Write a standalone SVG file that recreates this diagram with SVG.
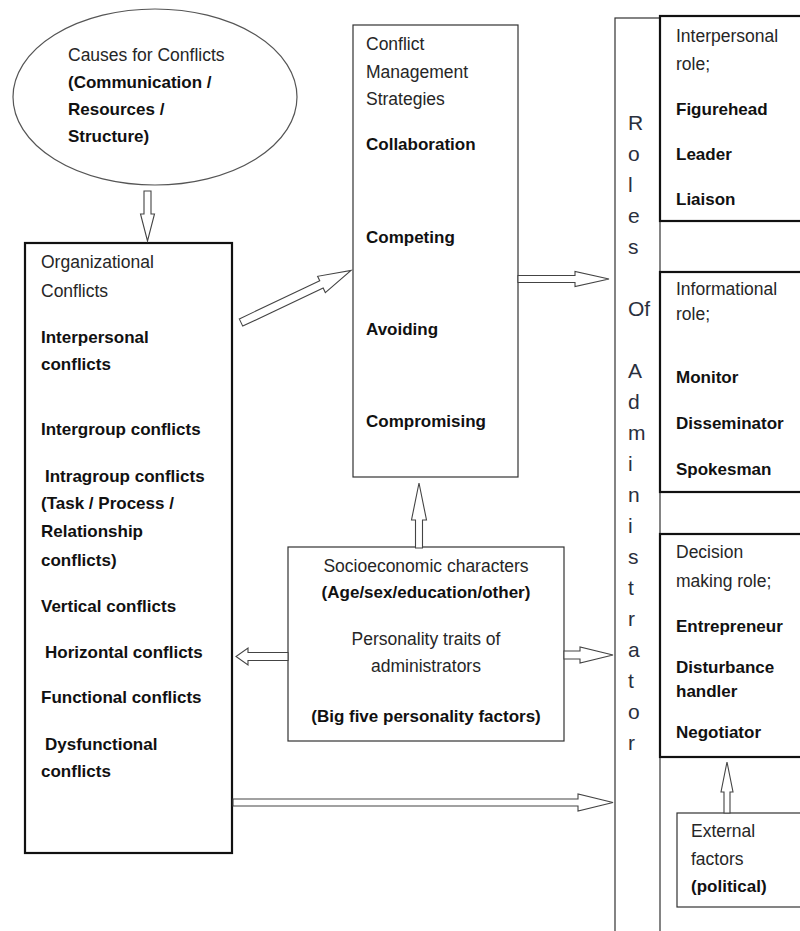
<svg xmlns="http://www.w3.org/2000/svg" width="800" height="931" viewBox="0 0 800 931">
<style>
text{font-family:"Liberation Sans",Arial,sans-serif;fill:#262626}
.r{font-size:17.5px}
.b{font-size:17px;font-weight:bold;fill:#111}
.c{text-anchor:middle}
.v{font-size:21px;fill:#2a2f3d}
.thin{fill:#fff;stroke:#333;stroke-width:1.2}
.thick{fill:#fff;stroke:#111;stroke-width:2.2}
.arr{fill:#fff;stroke:#444;stroke-width:1.1;stroke-linejoin:miter}
</style>
<rect width="800" height="931" fill="#fff"/>

<g id="roles">
<rect class="thin" x="615" y="18" width="45" height="930"/>
<text class="v" x="628" y="130">R</text>
<text class="v" x="628" y="161">o</text>
<text class="v" x="628" y="192">l</text>
<text class="v" x="628" y="223">e</text>
<text class="v" x="628" y="254">s</text>
<text class="v" x="628" y="316">Of</text>
<text class="v" x="628" y="378">A</text>
<text class="v" x="628" y="409">d</text>
<text class="v" x="628" y="440">m</text>
<text class="v" x="628" y="471">i</text>
<text class="v" x="628" y="502">n</text>
<text class="v" x="628" y="533">i</text>
<text class="v" x="628" y="564">s</text>
<text class="v" x="628" y="595">t</text>
<text class="v" x="628" y="626">r</text>
<text class="v" x="628" y="657">a</text>
<text class="v" x="628" y="688">t</text>
<text class="v" x="628" y="719">o</text>
<text class="v" x="628" y="750">r</text>
</g>

<g id="causes">
<ellipse cx="155" cy="97" rx="142" ry="88" fill="#fff" stroke="#555" stroke-width="1.2"/>
<text class="r" x="68" y="61">Causes for Conflicts</text>
<text class="b" x="68" y="88">(Communication /</text>
<text class="b" x="68" y="115">Resources /</text>
<text class="b" x="68" y="142">Structure)</text>
</g>

<g id="org">
<rect class="thick" x="25" y="243" width="207" height="610"/>
<text class="r" x="41" y="268">Organizational</text>
<text class="r" x="41" y="297">Conflicts</text>
<text class="b" x="41" y="343">Interpersonal</text>
<text class="b" x="41" y="370">conflicts</text>
<text class="b" x="41" y="435">Intergroup conflicts</text>
<text class="b" x="45" y="482">Intragroup conflicts</text>
<text class="b" x="41" y="509">(Task / Process /</text>
<text class="b" x="41" y="537">Relationship</text>
<text class="b" x="41" y="566">conflicts)</text>
<text class="b" x="41" y="612">Vertical conflicts</text>
<text class="b" x="45" y="658">Horizontal conflicts</text>
<text class="b" x="41" y="703">Functional conflicts</text>
<text class="b" x="45" y="750">Dysfunctional</text>
<text class="b" x="41" y="777">conflicts</text>
</g>

<g id="strategies">
<rect class="thin" x="353" y="25" width="165" height="452"/>
<text class="r" x="366" y="50">Conflict</text>
<text class="r" x="366" y="78">Management</text>
<text class="r" x="366" y="105">Strategies</text>
<text class="b" x="366" y="150">Collaboration</text>
<text class="b" x="366" y="243">Competing</text>
<text class="b" x="366" y="335">Avoiding</text>
<text class="b" x="366" y="427">Compromising</text>
</g>

<g id="socio">
<rect class="thin" x="288" y="547" width="276" height="194"/>
<text class="r c" x="426" y="572">Socioeconomic characters</text>
<text class="b c" x="426" y="598">(Age/sex/education/other)</text>
<text class="r c" x="426" y="645">Personality traits of</text>
<text class="r c" x="426" y="672">administrators</text>
<text class="b c" x="426" y="722">(Big five personality factors)</text>
</g>

<g id="interpersonal">
<rect class="thick" x="660" y="16" width="160" height="205"/>
<text class="r" x="676" y="42">Interpersonal</text>
<text class="r" x="676" y="70">role;</text>
<text class="b" x="676" y="115">Figurehead</text>
<text class="b" x="676" y="160">Leader</text>
<text class="b" x="676" y="205">Liaison</text>
</g>

<g id="informational">
<rect class="thick" x="660" y="272" width="160" height="220"/>
<text class="r" x="676" y="295">Informational</text>
<text class="r" x="676" y="320">role;</text>
<text class="b" x="676" y="383">Monitor</text>
<text class="b" x="676" y="429">Disseminator</text>
<text class="b" x="676" y="475">Spokesman</text>
</g>

<g id="decision">
<rect class="thick" x="660" y="534" width="160" height="223"/>
<text class="r" x="676" y="558">Decision</text>
<text class="r" x="676" y="587">making role;</text>
<text class="b" x="676" y="632">Entrepreneur</text>
<text class="b" x="676" y="673">Disturbance</text>
<text class="b" x="676" y="697">handler</text>
<text class="b" x="676" y="738">Negotiator</text>
</g>

<g id="external">
<rect class="thin" x="677" y="813" width="140" height="94"/>
<text class="r" x="691" y="837">External</text>
<text class="r" x="691" y="865">factors</text>
<text class="b" x="691" y="892">(political)</text>
</g>

<g id="connectors">
<polygon class="arr" points="144,191 151,191 151,214 154.5,214 147.5,241 140.5,214 144,214"/>
<polygon class="arr" transform="translate(241,322.5) rotate(-25.3)" points="0,-4 89,-4 89,-9 121.7,0 89,9 89,4 0,4"/>
<polygon class="arr" points="518,275.5 575,275.5 575,271.5 609,279 575,286.5 575,282.5 518,282.5"/>
<polygon class="arr" points="415.5,548 415.5,520 411.5,520 419,483 426.5,520 422.5,520 422.5,548"/>
<polygon class="arr" points="288,652.5 248,652.5 248,648 236,656.5 248,665 248,660.5 288,660.5"/>
<polygon class="arr" points="564,651 580,651 580,647 613,655 580,663 580,659 564,659"/>
<polygon class="arr" points="233,799 578,799 578,794 613,802.5 578,811 578,806 233,806"/>
<polygon class="arr" points="724,813 724,792 721,792 727,762 733,792 730,792 730,813"/>
</g>
</svg>
